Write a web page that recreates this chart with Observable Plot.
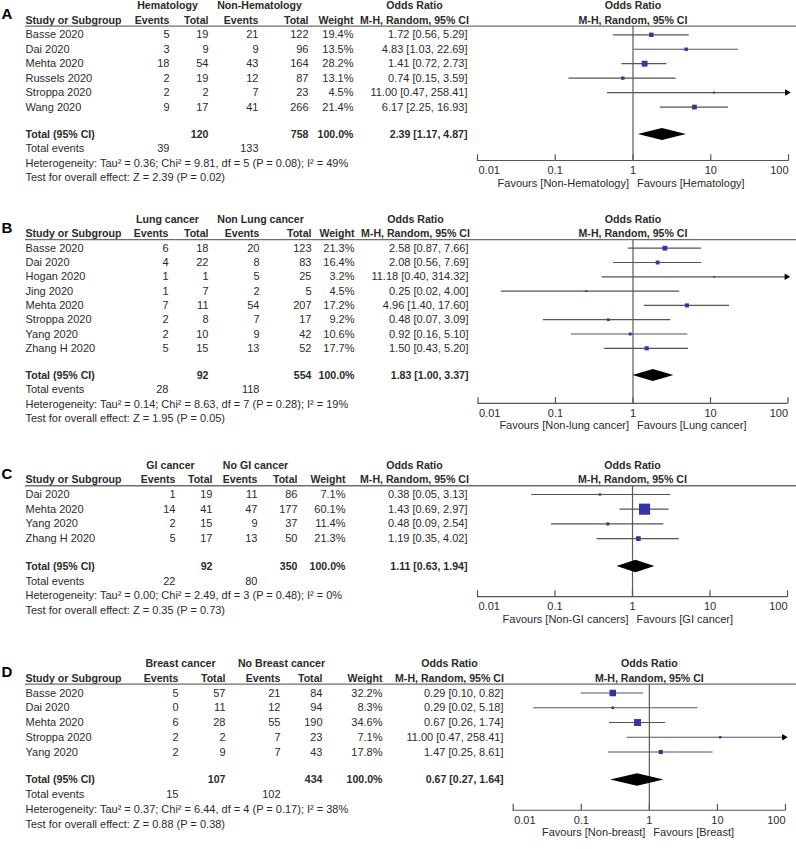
<!DOCTYPE html>
<html><head><meta charset="utf-8">
<script src="https://cdn.jsdelivr.net/npm/d3@7"></script>
<script src="https://cdn.jsdelivr.net/npm/@observablehq/plot@0.6"></script>
<style>
html,body{margin:0;padding:0;background:#fff;}
#chart{position:relative;width:796px;height:849px;overflow:hidden;background:#fff;}
#chart svg{position:absolute;left:0;top:0;}
</style></head><body><div id="chart"></div>
<script>
// ---------- Panel A : Hematology ----------
const studiesA = ["Basse 2020","Dai 2020","Mehta 2020","Russels 2020","Stroppa 2020","Wang 2020"];
const ev1A = [5,3,18,2,2,9];
const tot1A = [19,9,54,19,2,17];
const ev2A = [21,9,43,12,7,41];
const tot2A = [122,96,164,87,23,266];
const weightA = [19.4,13.5,28.2,13.1,4.5,21.4];
const orA = [1.72,4.83,1.41,0.74,11.00,6.17];
const loA = [0.56,1.03,0.72,0.15,0.47,2.25];
const hiA = [5.29,22.69,2.73,3.59,258.41,16.93];
const overallA = [2.39,1.17,4.87];
const totalsA = [120,758];
const eventsA = [39,133];
const groupsA = ["Hematology","Non-Hematology"];
const favoursA = ["Favours [Non-Hematology]","Favours [Hematology]"];
const hetA = "Heterogeneity: Tau² = 0.36; Chi² = 9.81, df = 5 (P = 0.08); I² = 49%";
const testA = "Test for overall effect: Z = 2.39 (P = 0.02)";

// ---------- Panel B : Lung cancer ----------
const studiesB = ["Basse 2020","Dai 2020","Hogan 2020","Jing 2020","Mehta 2020","Stroppa 2020","Yang 2020","Zhang H 2020"];
const ev1B = [6,4,1,1,7,2,2,5];
const tot1B = [18,22,1,7,11,8,10,15];
const ev2B = [20,8,5,2,54,7,9,13];
const tot2B = [123,83,25,5,207,17,42,52];
const weightB = [21.3,16.4,3.2,4.5,17.2,9.2,10.6,17.7];
const orB = [2.58,2.08,11.18,0.25,4.96,0.48,0.92,1.50];
const loB = [0.87,0.56,0.40,0.02,1.40,0.07,0.16,0.43];
const hiB = [7.66,7.69,314.32,4.00,17.60,3.09,5.10,5.20];
const overallB = [1.83,1.00,3.37];
const totalsB = [92,554];
const eventsB = [28,118];
const groupsB = ["Lung cancer","Non Lung cancer"];
const favoursB = ["Favours [Non-lung cancer]","Favours [Lung cancer]"];
const hetB = "Heterogeneity: Tau² = 0.14; Chi² = 8.63, df = 7 (P = 0.28); I² = 19%";
const testB = "Test for overall effect: Z = 1.95 (P = 0.05)";

// ---------- Panel C : GI cancer ----------
const studiesC = ["Dai 2020","Mehta 2020","Yang 2020","Zhang H 2020"];
const ev1C = [1,14,2,5];
const tot1C = [19,41,15,17];
const ev2C = [11,47,9,13];
const tot2C = [86,177,37,50];
const weightC = [7.1,60.1,11.4,21.3];
const orC = [0.38,1.43,0.48,1.19];
const loC = [0.05,0.69,0.09,0.35];
const hiC = [3.13,2.97,2.54,4.02];
const overallC = [1.11,0.63,1.94];
const totalsC = [92,350];
const eventsC = [22,80];
const groupsC = ["GI cancer","No GI cancer"];
const favoursC = ["Favours [Non-GI cancers]","Favours [GI cancer]"];
const hetC = "Heterogeneity: Tau² = 0.00; Chi² = 2.49, df = 3 (P = 0.48); I² = 0%";
const testC = "Test for overall effect: Z = 0.35 (P = 0.73)";

// ---------- Panel D : Breast cancer ----------
const studiesD = ["Basse 2020","Dai 2020","Mehta 2020","Stroppa 2020","Yang 2020"];
const ev1D = [5,0,6,2,2];
const tot1D = [57,11,28,2,9];
const ev2D = [21,12,55,7,7];
const tot2D = [84,94,190,23,43];
const weightD = [32.2,8.3,34.6,7.1,17.8];
const orD = [0.29,0.29,0.67,11.00,1.47];
const loD = [0.10,0.02,0.26,0.47,0.25];
const hiD = [0.82,5.18,1.74,258.41,8.61];
const overallD = [0.67,0.27,1.64];
const totalsD = [107,434];
const eventsD = [15,102];
const groupsD = ["Breast cancer","No Breast cancer"];
const favoursD = ["Favours [Non-breast]","Favours [Breast]"];
const hetD = "Heterogeneity: Tau² = 0.37; Chi² = 6.44, df = 4 (P = 0.17); I² = 38%";
const testD = "Test for overall effect: Z = 0.88 (P = 0.38)";

const axisTicks = [0.01,0.1,1,10,100];

// ---------- layout (pixels) ----------
const FONT = "'Liberation Sans', Arial, Helvetica, sans-serif";
const TXT = "#2b2b2b";
const panels = [
  {letter:"A", studies:studiesA, ev1:ev1A, tot1:tot1A, ev2:ev2A, tot2:tot2A, weight:weightA, or:orA, lo:loA, hi:hiA,
   overall:overallA, totals:totalsA, events:eventsA, groups:groupsA, favours:favoursA, het:hetA, test:testA,
   rowStart:34.3, step:14.45, axisGap:1.8, xRange:[477,788],
   col:{study:25,g1:167,ev1:169,tot1:208,g2:259,ev2:258,tot2:308,w:353,or:467,orH:414}},
  {letter:"B", studies:studiesB, ev1:ev1B, tot1:tot1B, ev2:ev2B, tot2:tot2B, weight:weightB, or:orB, lo:loB, hi:hiB,
   overall:overallB, totals:totalsB, events:eventsB, groups:groupsB, favours:favoursB, het:hetB, test:testB,
   rowStart:247.7, step:14.3, axisGap:1.95, xRange:[477.5,787.5],
   col:{study:25,g1:167,ev1:168,tot1:208,g2:260,ev2:259,tot2:311,w:354,or:468,orH:415}},
  {letter:"C", studies:studiesC, ev1:ev1C, tot1:tot1C, ev2:ev2C, tot2:tot2C, weight:weightC, or:orC, lo:loC, hi:hiC,
   overall:overallC, totals:totalsC, events:eventsC, groups:groupsC, favours:favoursC, het:hetC, test:testC,
   rowStart:494, step:14.7, axisGap:2.05, xRange:[477,787],
   col:{study:25,g1:170,ev1:175,tot1:212,g2:255,ev2:257,tot2:297,w:345,or:467,orH:414}},
  {letter:"D", studies:studiesD, ev1:ev1D, tot1:tot1D, ev2:ev2D, tot2:tot2D, weight:weightD, or:orD, lo:loD, hi:hiD,
   overall:overallD, totals:totalsD, events:eventsD, groups:groupsD, favours:favoursD, het:hetD, test:testD,
   rowStart:692.5, step:14.75, axisGap:2.05, xRange:[512.7,785],
   col:{study:25,g1:180,ev1:178,tot1:225,g2:281,ev2:280,tot2:322,w:382,or:503,orH:449}}
];

const f2 = v => v.toFixed(2);
const ciText = (o, l, h) => `${f2(o)} [${f2(l)}, ${f2(h)}]`;

function drawPanel(p) {
  const n = p.studies.length;
  const rows = p.studies.map((s, i) => ({i, study:s, ev1:p.ev1[i], tot1:p.tot1[i], ev2:p.ev2[i], tot2:p.tot2[i],
    w:p.weight[i], or:p.or[i], lo:p.lo[i], hi:p.hi[i]}));
  const tRow = n + 0.9;
  const axisRow = tRow + p.axisGap;
  const lineRow = -0.6;
  const C = p.col;
  const base = {frameAnchor:"left", fill:TXT, fontSize:11, lineAnchor:"middle"};
  const cell = (text, row, dx, anchor, bold) => Plot.text([text], {...base, y: () => row, text: d => d, dx,
    textAnchor: anchor, fontWeight: bold ? "bold" : "normal", fontSize: bold ? 10.6 : 11});
  const col = (acc, dx, anchor) => Plot.text(rows, {...base, y:"i", text:acc, dx, textAnchor:anchor});
  const [o, l, h] = p.overall;
  const diamond = [{x:l, y1:tRow, y2:tRow}, {x:o, y1:tRow-0.42, y2:tRow+0.42}, {x:h, y1:tRow, y2:tRow}];

  return Plot.plot({
    width:796, height:849, margin:0,
    x:{type:"log", domain:[0.01,100], range:p.xRange, clamp:true, axis:null},
    y:{type:"linear", domain:[0,1], range:[p.rowStart, p.rowStart + p.step], axis:null},
    r:{type:"linear", domain:[0,100], range:[0.68,10]},
    style:{fontFamily:FONT, background:"transparent", overflow:"visible"},
    marks:[
      // panel letter
      Plot.text([p.letter], {frameAnchor:"left", y:() => -1.4, text:d => d, dx:1, textAnchor:"start",
        fontWeight:"bold", fontSize:15, fill:"#000"}),
      // header row 1
      cell(p.groups[0], -2, C.g1, "middle", true),
      cell(p.groups[1], -2, C.g2, "middle", true),
      cell("Odds Ratio", -2, C.orH, "middle", true),
      Plot.text(["Odds Ratio"], {x:() => 1, y:() => -2, text:d => d, fontWeight:"bold", fontSize:10.6, fill:TXT}),
      // header row 2
      cell("Study or Subgroup", -1, C.study, "start", true),
      cell("Events", -1, C.ev1, "end", true),
      cell("Total", -1, C.tot1, "end", true),
      cell("Events", -1, C.ev2, "end", true),
      cell("Total", -1, C.tot2, "end", true),
      cell("Weight", -1, C.w, "end", true),
      cell("M-H, Random, 95% CI", -1, C.orH, "middle", true),
      Plot.text(["M-H, Random, 95% CI"], {x:() => 1, y:() => -1, text:d => d, fontWeight:"bold", fontSize:10.6, fill:TXT}),
      // header underline
      Plot.ruleY([lineRow], {y:d => d, insetLeft:25, stroke:"#6e6e6e", strokeWidth:1.4}),
      // study rows
      col("study", C.study, "start"),
      col("ev1", C.ev1, "end"),
      col("tot1", C.tot1, "end"),
      col("ev2", C.ev2, "end"),
      col("tot2", C.tot2, "end"),
      col(d => d.w.toFixed(1) + "%", C.w, "end"),
      col(d => ciText(d.or, d.lo, d.hi), C.or, "end"),
      // totals
      cell("Total (95% CI)", tRow, C.study, "start", true),
      cell(String(p.totals[0]), tRow, C.tot1, "end", true),
      cell(String(p.totals[1]), tRow, C.tot2, "end", true),
      cell("100.0%", tRow, C.w, "end", true),
      cell(ciText(o, l, h), tRow, C.or, "end", true),
      cell("Total events", tRow + 1, C.study, "start", false),
      cell(String(p.events[0]), tRow + 1, C.ev1, "end", false),
      cell(String(p.events[1]), tRow + 1, C.ev2, "end", false),
      cell(p.het, tRow + 2, C.study, "start", false),
      cell(p.test, tRow + 3, C.study, "start", false),
      // reference line at OR = 1
      Plot.ruleX([1], {x:d => d, y1:lineRow, y2:axisRow, stroke:"#5a5a5a", strokeWidth:1.2}),
      // confidence intervals
      Plot.ruleY(rows, {y:"i", x1:"lo", x2:"hi", stroke:"#555", strokeWidth:1.2}),
      Plot.dot(rows.filter(d => d.hi > 100), {x:"hi", y:"i", symbol:"triangle", rotate:90, r:2.4, fill:"#000", dx:-1.5}),
      // study estimates
      Plot.dot(rows, {x:"or", y:"i", r:"w", symbol:"square", fill:"#3535a3", stroke:"none"}),
      // pooled diamond
      Plot.areaY(diamond, {x:"x", y1:"y1", y2:"y2", fill:"#000"}),
      // axis
      Plot.ruleY([axisRow], {y:d => d, x1:0.01, x2:100, stroke:"#555", strokeWidth:1.2}),
      Plot.ruleX(axisTicks, {x:d => d, y1:axisRow - 0.4, y2:axisRow + 0.05, stroke:"#555", strokeWidth:1.2}),
      Plot.text(axisTicks.slice(0,1), {x:d => d, y:() => axisRow, dy:10, text:d => String(d), textAnchor:"start", dx:1, fontSize:11, fill:TXT}),
      Plot.text(axisTicks.slice(1,-1), {x:d => d, y:() => axisRow, dy:10, text:d => String(d), textAnchor:"middle", fontSize:11, fill:TXT}),
      Plot.text(axisTicks.slice(-1), {x:d => d, y:() => axisRow, dy:10, text:d => String(d), textAnchor:"end", fontSize:11, fill:TXT}),
      Plot.text([p.favours[0]], {x:() => 1, y:() => axisRow, dy:22.5, dx:-4, text:d => d, textAnchor:"end", fontSize:11, fill:TXT}),
      Plot.text([p.favours[1]], {x:() => 1, y:() => axisRow, dy:22.5, dx:4, text:d => d, textAnchor:"start", fontSize:11, fill:TXT})
    ]
  });
}

const root = document.getElementById("chart");
for (const p of panels) root.appendChild(drawPanel(p));
</script>
</body></html>
